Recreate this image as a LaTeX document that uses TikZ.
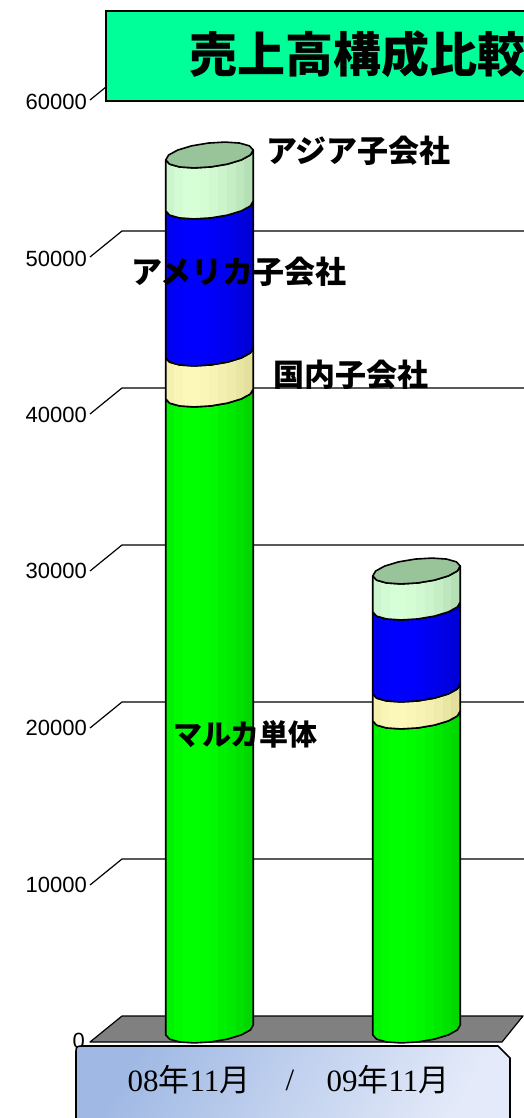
\documentclass[tikz,border=0pt]{standalone}
\usepackage{fontspec}
\setmainfont{Liberation Serif}
\newfontfamily\jpfont{Noto Sans CJK JP}
\newfontfamily\axfont{Liberation Sans}
\definecolor{gL}{RGB}{0,255,0}
\definecolor{gD}{RGB}{0,180,0}
\definecolor{yL}{RGB}{252,248,185}
\definecolor{yD}{RGB}{205,200,130}
\definecolor{bL}{RGB}{0,0,255}
\definecolor{bD}{RGB}{0,0,180}
\definecolor{lL}{RGB}{215,255,215}
\definecolor{lD}{RGB}{150,195,150}
\definecolor{topface}{RGB}{153,196,153}
\definecolor{mint}{RGB}{0,255,153}
\definecolor{floorgray}{RGB}{128,128,128}
\definecolor{catA}{RGB}{160,185,228}
\definecolor{catB}{RGB}{228,234,249}
\tikzset{
  segp/.style n args={3}{insert path={
    plot[domain=180:0,samples=9,variable=\t]({#1+44*cos(\t)*cos(-6.5)-12*sin(\t)*sin(-6.5)},{#2+44*cos(\t)*sin(-6.5)+12*sin(\t)*cos(-6.5)})
    -- plot[domain=0:180,samples=9,variable=\t]({#1+44*cos(\t)*cos(-6.5)-12*sin(\t)*sin(-6.5)},{#3+44*cos(\t)*sin(-6.5)+12*sin(\t)*cos(-6.5)})
    -- cycle}},
  topp/.style 2 args={insert path={
    plot[domain=0:360,samples=17,variable=\t]({#1+44*cos(\t)*cos(-6.5)-12*sin(\t)*sin(-6.5)},{#2+44*cos(\t)*sin(-6.5)+12*sin(\t)*cos(-6.5)}) -- cycle}},
  barline/.style={draw=black, line width=1.6pt, line join=round},
  grid/.style={draw=black, line width=1.2pt},
  axlab/.style={anchor=east, inner sep=0pt, font=\axfont\fontsize{22}{22}\selectfont},
  lab/.style={anchor=west, inner sep=0pt, font=\jpfont\bfseries\fontsize{31}{31}\selectfont},
}
\newcommand\cylseg[5]{%
  \begin{scope}
    \clip[segp={#1}{#2}{#3}];
    \foreach \i/\p in {0/84,1/94,2/100,3/100,4/96,5/90,6/82,7/72,8/60,9/48}{
      \fill[#4!\p!#5] ({#1-44+\i*8.8-0.3},{#3-20}) rectangle ({#1-44+(\i+1)*8.8+0.3},{#2+20});
    }
  \end{scope}
  \draw[barline, segp={#1}{#2}{#3}];
}
\begin{document}
\begin{tikzpicture}[x=1pt,y=-1pt]
\useasboundingbox (0,0) rectangle (524,1118);
\clip (0,0) rectangle (524,1118);
% grid lines
\foreach \k in {1,...,6}{
  \coordinate (f\k) at (90,{1042-157*\k});
  \coordinate (b\k) at (122,{1016-157*\k});
  \coordinate (e\k) at (530,{1016-157*\k});
  \draw[grid] (f\k) -- (b\k) -- (e\k);
}
% axis labels
\node[axlab] (l0) at (85,1041) {0};
\node[axlab] (l1) at (87,885) {10000};
\node[axlab] (l2) at (87,728) {20000};
\node[axlab] (l3) at (87,571) {30000};
\node[axlab] (l4) at (87,415) {40000};
\node[axlab] (l5) at (87,259) {50000};
\node[axlab] (l6) at (87,102) {60000};
% floor
\filldraw[fill=floorgray, draw=black, line width=1.2pt, line join=round]
  (90,1042) -- (122,1016) -- (523,1016) -- (502,1042) -- cycle;
% left bar
\cylseg{209.5}{1030}{394}{gL}{gD}
\cylseg{209.5}{394}{353}{yL}{yD}
\cylseg{209.5}{353}{206}{bL}{bD}
\cylseg{209.5}{206}{155}{lL}{lD}
\filldraw[barline, fill=topface, topp={209.5}{155}];
% right bar
\cylseg{416.5}{1030}{716}{gL}{gD}
\cylseg{416.5}{716}{689}{yL}{yD}
\cylseg{416.5}{689}{607}{bL}{bD}
\cylseg{416.5}{607}{571}{lL}{lD}
\filldraw[barline, fill=topface, topp={416.5}{571}];
% title
\draw[fill=mint, line width=1.6pt] (106,11) rectangle (540,101);
\node[anchor=west, inner sep=0pt, font=\jpfont\bfseries\fontsize{48}{48}\selectfont] (title) at (189,54) {売上高構成比較};
% series labels
\node[lab] (asia) at (266,151) {アジア子会社};
\node[lab] (amer) at (131,272) {アメリカ子会社};
\node[lab] (dom) at (273,375) {国内子会社};
\node[lab, font=\jpfont\bfseries\fontsize{29}{29}\selectfont] (mal) at (173,734) {マルカ単体};
% category box
\shade[left color=catA, right color=catB, shading angle=60]
  (76,1130) -- (76,1054) .. controls (76,1046) .. (84,1046) -- (498,1046) -- (510,1058) -- (510,1130) -- cycle;
\draw[line width=1.6pt, line join=round]
  (76,1130) -- (76,1054) .. controls (76,1046) .. (84,1046) -- (498,1046) -- (510,1058) -- (510,1130);
\node[inner sep=0pt, font=\fontsize{31}{31}\selectfont] (c1) at (189,1080) {08{\jpfont 年}11{\jpfont 月}};
\node[inner sep=0pt, font=\fontsize{31}{31}\selectfont] (sl) at (290,1080) {/};
\node[inner sep=0pt, font=\fontsize{31}{31}\selectfont] (c2) at (388,1080) {09{\jpfont 年}11{\jpfont 月}};
\end{tikzpicture}
\end{document}
